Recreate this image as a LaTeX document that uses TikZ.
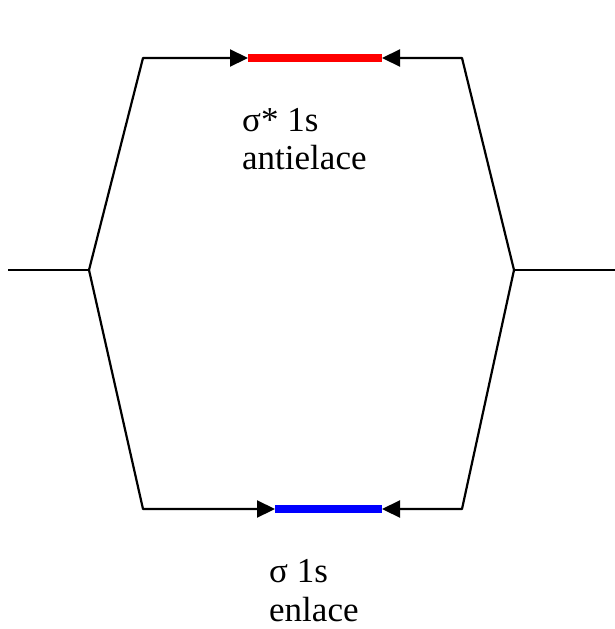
\documentclass[tikz,border=0pt]{standalone}
\usepackage{fontspec}
\setmainfont{Liberation Serif}
\usetikzlibrary{arrows.meta}
\tikzset{
  wire/.style={line width=2.2pt, line join=round, -{Triangle[length=18pt,width=17pt]}},
  plain/.style={line width=2.2pt, line join=round},
  level/.style={line width=7.5pt},
  lbl/.style={anchor=base west, inner sep=0pt, font=\fontsize{35}{40}\selectfont}
}
\begin{document}
\begin{tikzpicture}[x=1pt,y=-1pt]
\useasboundingbox (0,0) rectangle (615,629);
\coordinate (L) at (8,270);
\coordinate (LV) at (89,270);
\coordinate (TL) at (143,58);
\coordinate (TR) at (462,58);
\coordinate (RV) at (514,270);
\coordinate (R) at (615,270);
\coordinate (BL) at (143,509);
\coordinate (BR) at (462,509);
\coordinate (RA) at (248,58);
\coordinate (RB) at (382,58);
\coordinate (BA) at (275,509);
\coordinate (BB) at (382,509);
\draw[level, red] (RA) -- (RB);
\draw[level, blue] (BA) -- (BB);
\draw[plain] (L) -- (LV);
\draw[plain] (R) -- (RV);
\draw[wire] (LV) -- (TL) -- (RA);
\draw[wire] (RV) -- (TR) -- (RB);
\draw[wire] (LV) -- (BL) -- (BA);
\draw[wire] (RV) -- (BR) -- (BB);
\node[lbl] (t1) at (242,131) {σ* 1s};
\node[lbl] (t2) at (242,169) {antielace};
\node[lbl] (b1) at (269,582) {σ 1s};
\node[lbl] (b2) at (269,621) {enlace};
\end{tikzpicture}
\end{document}
